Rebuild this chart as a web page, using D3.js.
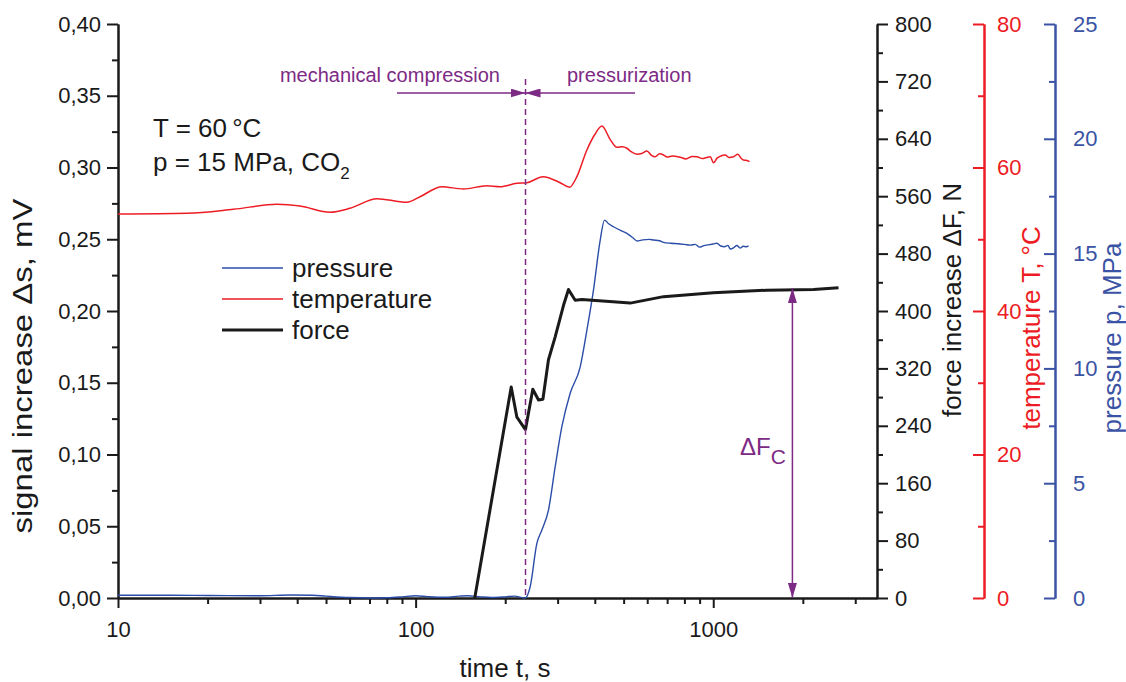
<!DOCTYPE html>
<html>
<head>
<meta charset="utf-8">
<script src="https://cdn.jsdelivr.net/npm/d3@7"></script>
<style>
  body { margin: 0; background: #fff; }
  svg { display: block; font-family: "Liberation Sans", Arial, sans-serif; }
  .tick text { font-family: "Liberation Sans", Arial, sans-serif; }
</style>
</head>
<body>
<svg id="chart" width="1126" height="682"></svg>
<script>
// force increase, N  (time in s)
const forceTime = [158, 209.5, 218.9, 231.7, 234, 247.6, 258.8, 267.7, 279.5, 294.4, 314, 326.3, 343.6, 361.9, 526, 680.6, 1000, 1513, 2172, 2636];
const forceVal  = [0, 294, 252, 237, 235, 291, 276, 277, 332, 364, 408, 430, 415, 416, 411, 420, 425.5, 429, 430, 432.5];

// temperature, degC
const tempTime = [10, 17.1, 24.4, 34.2, 40.9, 51.6, 60.2, 74.2, 88.7, 93.4, 103.5, 122.5, 144.8, 173.5, 192.3, 218.9, 236.5, 267.7, 306, 328.8, 348.2, 376.2, 400, 422.6, 450.6, 474.6, 495, 512.8, 530, 554, 575, 598.5, 620, 638.3, 660, 680.6, 700, 730, 774.8, 810, 850, 881.6, 920, 950, 977, 1002, 1030, 1060, 1097, 1130, 1170, 1210, 1240, 1264, 1290, 1324];
const tempVal  = [53.52, 53.62, 54.17, 54.87, 54.63, 53.76, 54.31, 55.65, 55.23, 55.15, 55.93, 57.32, 57.0, 57.46, 57.32, 57.8, 57.88, 58.72, 57.88, 57.24, 58.72, 62.44, 64.6, 65.78, 63.89, 62.81, 62.9, 62.68, 62.2, 61.84, 61.95, 62.3, 61.7, 61.5, 61.9, 61.74, 61.45, 61.6, 61.42, 61.2, 61.55, 61.5, 61.25, 61.4, 61.5, 60.67, 61.3, 61.6, 61.74, 61.4, 61.5, 61.85, 61.3, 61.04, 61.0, 60.81];

// pressure, MPa
const pressTime = [10, 15, 20, 30, 38, 45, 50, 60, 70, 80, 90, 100, 110, 125, 140, 150, 165, 180, 200, 215, 233.4, 242.6, 255.5, 265.6, 279.5, 294.4, 310, 330.6, 357.3, 376.3, 395.9, 417.1, 431.2, 445, 462.3, 490, 512.8, 539.7, 554, 580, 610, 630, 660, 681, 720, 760, 800, 837, 870, 900, 930, 960, 1000, 1029, 1060, 1090, 1120, 1141, 1170, 1200, 1232, 1260, 1290, 1314];
const pressVal  = [0.12, 0.12, 0.11, 0.1, 0.13, 0.12, 0.08, 0.02, 0.0, 0.01, 0.05, 0.1, 0.06, 0.03, 0.08, 0.1, 0.05, 0.02, 0.05, 0.08, 0.0, 0.49, 2.38, 2.96, 3.83, 5.72, 7.46, 8.92, 10.07, 11.67, 13.41, 15.59, 16.46, 16.3, 16.17, 16.0, 15.88, 15.67, 15.55, 15.6, 15.62, 15.59, 15.56, 15.49, 15.45, 15.43, 15.4, 15.37, 15.4, 15.28, 15.35, 15.38, 15.42, 15.45, 15.33, 15.3, 15.36, 15.2, 15.25, 15.35, 15.24, 15.32, 15.3, 15.34];

// axis ticks
const timeMajor = [10, 100, 1000];
const timeMinor = [20, 30, 40, 50, 60, 70, 80, 90, 200, 300, 400, 500, 600, 700, 800, 900, 2000, 3000];
const signalMajor = [0, 0.05, 0.1, 0.15, 0.2, 0.25, 0.3, 0.35, 0.4];
const signalMinor = [0.025, 0.075, 0.125, 0.175, 0.225, 0.275, 0.325, 0.375];
const forceMajor = [0, 80, 160, 240, 320, 400, 480, 560, 640, 720, 800];
const forceMinor = [40, 120, 200, 280, 360, 440, 520, 600, 680, 760];
const tempMajor = [0, 20, 40, 60, 80];
const tempMinor = [10, 30, 50, 70];
const pressMajor = [0, 5, 10, 15, 20, 25];
const pressMinor = [2.5, 7.5, 12.5, 17.5, 22.5];

// annotation values
const switchTime = 234;   // end of mechanical compression
const deltaFcTime = 1845; // where the force step is marked
const deltaFcVal = 432;

const RED = '#ed1c24', BLUE = '#3a53a4', PURPLE = '#7d2a85', BLACK = '#1a1a1a';

const svg = d3.select('#chart');

const x = d3.scaleLog().domain([10, 3550]).range([118, 877]);
const ySig = d3.scaleLinear().domain([0, 0.4]).range([598, 24]);
const yF = d3.scaleLinear().domain([0, 800]).range([598, 24]);
const yT = d3.scaleLinear().domain([0, 80]).range([598, 24]);
const yP = d3.scaleLinear().domain([0, 25]).range([598, 24]);

function styleAxis(g, color, fontSize) {
  g.selectAll('.domain').attr('stroke', color).attr('stroke-width', 2);
  g.selectAll('.tick line').attr('stroke', color).attr('stroke-width', 2);
  g.selectAll('.tick text').attr('fill', color).style('font-size', fontSize + 'px');
}

// bottom axis
const gx = svg.append('g').attr('transform', 'translate(0,598)')
  .call(d3.axisBottom(x).tickValues(timeMajor).tickFormat(d3.format('d')).tickSize(10).tickSizeOuter(0).tickPadding(13));
styleAxis(gx, BLACK, 22);
const gxm = svg.append('g').attr('transform', 'translate(0,598)')
  .call(d3.axisBottom(x).tickValues(timeMinor).tickFormat('').tickSize(6).tickSizeOuter(0));
styleAxis(gxm, BLACK, 22);

// left axis
const comma = d => d3.format('.2f')(d).replace('.', ',');
const gy = svg.append('g').attr('transform', 'translate(118,0)')
  .call(d3.axisLeft(ySig).tickValues(signalMajor).tickFormat(comma).tickSize(11).tickSizeOuter(0).tickPadding(6));
styleAxis(gy, BLACK, 22);
const gym = svg.append('g').attr('transform', 'translate(118,0)')
  .call(d3.axisLeft(ySig).tickValues(signalMinor).tickFormat('').tickSize(6).tickSizeOuter(0));
styleAxis(gym, BLACK, 22);

// force axis
const gf = svg.append('g').attr('transform', 'translate(877,0)')
  .call(d3.axisRight(yF).tickValues(forceMajor).tickSize(11).tickSizeOuter(0).tickPadding(7));
styleAxis(gf, BLACK, 22);
const gfm = svg.append('g').attr('transform', 'translate(877,0)')
  .call(d3.axisRight(yF).tickValues(forceMinor).tickFormat('').tickSize(6).tickSizeOuter(0));
styleAxis(gfm, BLACK, 22);

// temperature axis (ticks point left)
const gt = svg.append('g').attr('transform', 'translate(984,0)')
  .call(d3.axisRight(yT).tickValues(tempMajor).tickSize(-11).tickSizeOuter(0).tickPadding(13));
styleAxis(gt, RED, 22);
const gtm = svg.append('g').attr('transform', 'translate(984,0)')
  .call(d3.axisRight(yT).tickValues(tempMinor).tickFormat('').tickSize(-6).tickSizeOuter(0));
styleAxis(gtm, RED, 22);

// pressure axis
const gp = svg.append('g').attr('transform', 'translate(1055,0)')
  .call(d3.axisRight(yP).tickValues(pressMajor).tickSize(-11).tickSizeOuter(0).tickPadding(18));
styleAxis(gp, BLUE, 22);
const gpm = svg.append('g').attr('transform', 'translate(1055,0)')
  .call(d3.axisRight(yP).tickValues(pressMinor).tickFormat('').tickSize(-6).tickSizeOuter(0));
styleAxis(gpm, BLUE, 22);

// axis titles
svg.append('text').attr('transform', 'translate(32,366) rotate(-90)')
  .attr('text-anchor', 'middle').style('font-size', '27px').attr('fill', BLACK)
  .attr('textLength', 335).attr('lengthAdjust', 'spacingAndGlyphs')
  .text('signal increase \u0394s, mV');
svg.append('text').attr('x', 505).attr('y', 677)
  .attr('text-anchor', 'middle').style('font-size', '26px').attr('fill', BLACK)
  .text('time t, s');
svg.append('text').attr('transform', 'translate(961,300) rotate(-90)')
  .attr('text-anchor', 'middle').style('font-size', '26px').attr('fill', BLACK)
  .text('force increase \u0394F, N');
svg.append('text').attr('transform', 'translate(1040,328) rotate(-90)')
  .attr('text-anchor', 'middle').style('font-size', '26px').attr('fill', RED)
  .text('temperature T, \u00b0C');
svg.append('text').attr('transform', 'translate(1121,338) rotate(-90)')
  .attr('text-anchor', 'middle').style('font-size', '26px').attr('fill', BLUE)
  .text('pressure p, MPa');

// curves
const tempData = tempTime.map((t, i) => [t, tempVal[i]]);
const pressData = pressTime.map((t, i) => [t, pressVal[i]]);
const forceData = forceTime.map((t, i) => [t, forceVal[i]]);

svg.append('path').datum(tempData)
  .attr('fill', 'none').attr('stroke', RED).attr('stroke-width', 1.5)
  .attr('d', d3.line().x(d => x(d[0])).y(d => yT(d[1])).curve(d3.curveMonotoneX));
svg.append('path').datum(pressData)
  .attr('fill', 'none').attr('stroke', '#2b4da8').attr('stroke-width', 1.4)
  .attr('d', d3.line().x(d => x(d[0])).y(d => yP(d[1])).curve(d3.curveMonotoneX));
svg.append('path').datum(forceData)
  .attr('fill', 'none').attr('stroke', BLACK).attr('stroke-width', 3).attr('stroke-linejoin', 'round')
  .attr('d', d3.line().x(d => x(d[0])).y(d => yF(d[1])));

// arrow markers
const defs = svg.append('defs');
defs.append('marker').attr('id', 'arr').attr('viewBox', '0 0 15 9')
  .attr('refX', 15).attr('refY', 4.5).attr('markerWidth', 15).attr('markerHeight', 9)
  .attr('markerUnits', 'userSpaceOnUse').attr('orient', 'auto')
  .append('path').attr('d', 'M0,0 L15,4.5 L0,9 Z').attr('fill', PURPLE);

// phase annotation
const xs = x(switchTime);
svg.append('line').attr('x1', xs).attr('x2', xs).attr('y1', 79).attr('y2', 598)
  .attr('stroke', PURPLE).attr('stroke-width', 1.5).attr('stroke-dasharray', '6,4');
svg.append('line').attr('x1', 397).attr('x2', xs).attr('y1', 93).attr('y2', 93)
  .attr('stroke', PURPLE).attr('stroke-width', 1.5).attr('marker-end', 'url(#arr)');
svg.append('line').attr('x1', 635).attr('x2', xs).attr('y1', 93).attr('y2', 93)
  .attr('stroke', PURPLE).attr('stroke-width', 1.5).attr('marker-end', 'url(#arr)');
svg.append('text').attr('x', 500).attr('y', 82).attr('text-anchor', 'end')
  .style('font-size', '20px').attr('fill', PURPLE).text('mechanical compression');
svg.append('text').attr('x', 567).attr('y', 82)
  .style('font-size', '20px').attr('fill', PURPLE).text('pressurization');

// delta Fc arrow
const xa = x(deltaFcTime);
svg.append('line').attr('x1', xa).attr('x2', xa).attr('y1', 440).attr('y2', yF(deltaFcVal))
  .attr('stroke', PURPLE).attr('stroke-width', 1.5).attr('marker-end', 'url(#arr)');
svg.append('line').attr('x1', xa).attr('x2', xa).attr('y1', 440).attr('y2', yF(0))
  .attr('stroke', PURPLE).attr('stroke-width', 1.5).attr('marker-end', 'url(#arr)');
const lbl = svg.append('text').attr('x', 740).attr('y', 455)
  .style('font-size', '24px').attr('fill', PURPLE);
lbl.append('tspan').text('\u0394F');
lbl.append('tspan').attr('dy', 9).style('font-size', '21px').text('C');

// conditions
svg.append('text').attr('x', 153).attr('y', 137).style('font-size', '26px').attr('fill', BLACK)
  .text('T = 60\u2009\u00b0C');
const cond = svg.append('text').attr('x', 153).attr('y', 171).style('font-size', '26px').attr('fill', BLACK);
cond.append('tspan').text('p = 15 MPa, CO');
cond.append('tspan').attr('dy', 8).style('font-size', '17px').text('2');

// legend
const legend = [
  {name: 'pressure', color: '#2b4da8', w: 1.5},
  {name: 'temperature', color: RED, w: 1.5},
  {name: 'force', color: BLACK, w: 3}
];
const lg = svg.append('g');
legend.forEach((d, i) => {
  const yy = 268 + i * 31;
  lg.append('line').attr('x1', 222).attr('x2', 283).attr('y1', yy).attr('y2', yy)
    .attr('stroke', d.color).attr('stroke-width', d.w);
  lg.append('text').attr('x', 292).attr('y', yy + 9).style('font-size', '26px')
    .attr('fill', BLACK).text(d.name);
});
</script>
</body>
</html>
